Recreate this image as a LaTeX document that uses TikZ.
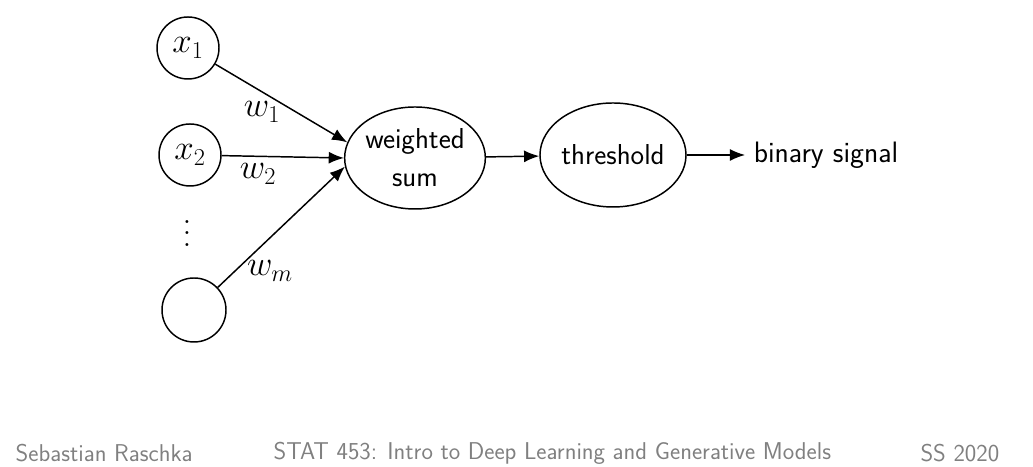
\documentclass[tikz,border=0pt]{standalone}
\usepackage{amsmath, amssymb}
\usepackage{graphicx}
\usepackage{xcolor}
\usepackage{tikz}
\usetikzlibrary{shapes.geometric, arrows.meta}
\definecolor{footgray}{RGB}{128,128,128}

\begin{document}
\begin{tikzpicture}[
    >={Latex[length=3.8mm,width=3mm]},
    line width=1.05pt,
    inp/.style={draw, circle, minimum size=1.55cm, inner sep=0pt, font=\fontsize{23}{28}\selectfont},
    unit/.style={draw, ellipse, minimum width=3.3cm, minimum height=2.55cm, inner sep=0pt, align=center, font=\sffamily\fontsize{20.5}{27}\selectfont},
    wlabel/.style={font=\fontsize{23}{28}\selectfont},
    foot/.style={text=footgray, inner sep=0pt, font=\sffamily\fontsize{17.3}{21}\selectfont}
]
\useasboundingbox (0,0) rectangle (25.825,11.675);

\node[inp] (x1) at (4.70,10.475) {$x_1$};
\node[inp] (x2) at (4.75,7.8) {$x_2$};
\node (dots) at (4.675,6.05) {\scalebox{2}{$\vdots$}};
\node[inp, minimum size=1.6cm] (xm) at (4.85,3.925) {};

\node[unit] (sum) at (10.375,7.725) {weighted\\sum};
\node[unit, minimum height=2.6cm] (thresh) at (15.325,7.8) {threshold};
\node[font=\sffamily\fontsize{21}{25}\selectfont, outer sep=0.1cm] (out) at (20.65,7.8) {binary signal};

\draw[->] (x1) -- (sum.167);
\draw[->] (x2) -- (sum.180);
\draw[->] (xm) -- (sum.187);
\draw[->] (sum) -- (thresh);
\draw[->] (thresh) -- (out);

\node[wlabel] (lw1) at (6.55,8.875) {$w_1$};
\node[wlabel] (lw2) at (6.45,7.325) {$w_2$};
\node[wlabel] (lwm) at (6.75,4.9) {$w_m$};

% footer line
\node[foot, anchor=west] (author) at (0.375,0.35) {Sebastian Raschka};
\node[foot] (course) at (13.81,0.35) {STAT 453: Intro to Deep Learning and Generative Models};
\node[foot, anchor=east] (term) at (25.0,0.35) {SS 2020};
\end{tikzpicture}
\end{document}
